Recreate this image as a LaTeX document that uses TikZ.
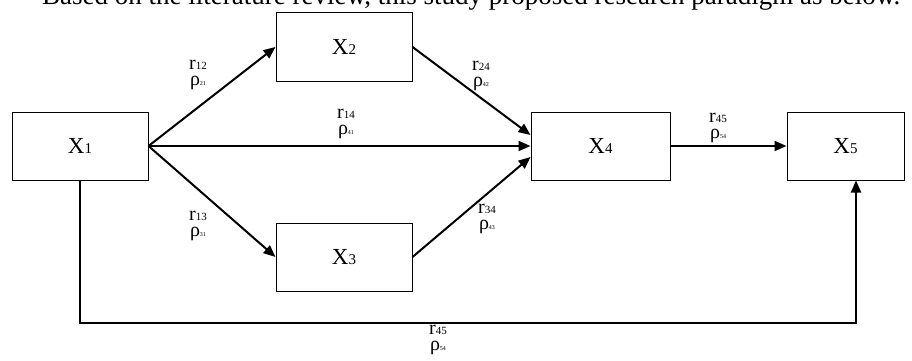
\documentclass[tikz,border=0pt]{standalone}
\usepackage{fontspec}
\setmainfont{Liberation Serif}
\usetikzlibrary{arrows.meta}
\newcommand{\rsub}[1]{{\fontsize{11}{11}\selectfont #1}}
\newcommand{\psub}[1]{{\fontsize{6}{6}\selectfont #1}}
\newcommand{\xsub}[1]{{\fontsize{15}{15}\selectfont #1}}
\begin{document}
\begin{tikzpicture}[x=1pt,y=-1pt,
  box/.style={draw,line width=1pt,inner sep=0pt,font=\fontsize{23}{23}\selectfont},
  conn/.style={line width=2pt,-{Triangle[length=12pt,width=10pt]}},
  plain/.style={line width=2pt},
  lbl/.style={align=center,inner sep=0pt,font=\fontsize{20}{16}\selectfont}]
\useasboundingbox (0,0) rectangle (912,361);

\node[anchor=base west,inner sep=0pt,font=\fontsize{27}{27}\selectfont] (title) at (42,5)
  {Based on the literature review, this study proposed research paradigm as below.};

\node[box,minimum width=136pt,minimum height=68pt] (x1) at (80,146) {X\xsub{1}};
\node[box,minimum width=136pt,minimum height=68pt] (x2) at (344,47) {X\xsub{2}};
\node[box,minimum width=136pt,minimum height=68pt] (x3) at (344,257) {X\xsub{3}};
\node[box,minimum width=139pt,minimum height=68pt] (x4) at (600.5,146) {X\xsub{4}};
\node[box,minimum width=117pt,minimum height=68pt] (x5) at (845.5,146) {X\xsub{5}};

\draw[conn] (x1.east) -- (x2.west);
\draw[conn] (x1.east) -- (x4.west);
\draw[conn] (x1.east) -- (x3.west);
\draw[conn] (x2.east) -- ([yshift=11pt]x4.west);
\draw[conn] (x3.east) -- ([yshift=-11pt]x4.west);
\draw[conn] (x4.east) -- (x5.west);

\coordinate (b1) at (80,323);
\coordinate (b2) at (856,323);
\draw[plain,line join=miter] (x1.south) -- (b1) -- (b2) -- ([yshift=-12pt]b2 |- x5.south);
\draw[conn] ([yshift=-14pt]b2 |- x5.south) -- (b2 |- x5.south);

\node[lbl] (l12) at (198,75) {r\rsub{12}\\ρ\psub{21}};
\node[lbl] (l14) at (346,124) {r\rsub{14}\\ρ\psub{41}};
\node[lbl] (l13) at (198,226) {r\rsub{13}\\ρ\psub{31}};
\node[lbl] (l24) at (481,76) {r\rsub{24}\\ρ\psub{42}};
\node[lbl] (l34) at (487,219) {r\rsub{34}\\ρ\psub{43}};
\node[lbl] (l45) at (718,128) {r\rsub{45}\\ρ\psub{54}};
\node[lbl] (l45b) at (438,340) {r\rsub{45}\\ρ\psub{54}};
\end{tikzpicture}
\end{document}
